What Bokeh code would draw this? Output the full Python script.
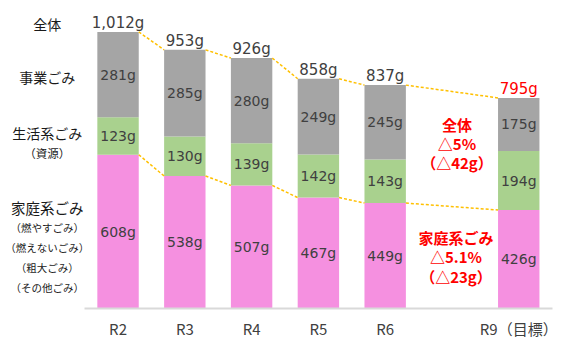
from bokeh.plotting import figure
from bokeh.models import FactorRange, Range1d, ColumnDataSource, Label
from bokeh.transform import dodge
from bokeh.core.properties import value
from bokeh.embed import file_html
from bokeh.resources import INLINE

# Per-capita daily waste (g/person/day) by fiscal year, with the R9 target
periods = ["R2", "R3", "R4", "R5", "R6", "R9（目標）"]
household = [608, 538, 507, 467, 449, 426]   # 家庭系ごみ
resource = [123, 130, 139, 142, 143, 194]    # 生活系ごみ（資源）
business = [281, 285, 280, 249, 245, 175]    # 事業ごみ

total = [h + r + b for h, r, b in zip(household, resource, business)]

Y_MIN, Y_MAX = 102, 1099
BAR_W = 0.62
PINK, GREEN, GRAY = "#f590e0", "#a9d18e", "#a5a5a5"
DASH = "#ffc000"
TXT = "#404040"
RED = "#ff0000"
NUM_FONT = "DejaVu Sans"
JP_FONT = "Noto Sans CJK JP"

# A leading blank slot holds the category names, a second one the gap before R9
names_col = "  "
gap = " "
factors = [names_col] + periods[:-1] + [gap] + periods[-1:]


def fx(factor):
    """Synthetic (numeric) x coordinate of a factor's centre on the range."""
    return factors.index(factor) + 0.5


src = ColumnDataSource(dict(
    period=periods,
    household=household,
    resource=resource,
    business=business,
    total=total,
    hh_mid=[(Y_MIN + h) / 2 for h in household],
    res_mid=[h + r / 2 for h, r in zip(household, resource)],
    bus_mid=[t - b / 2 for t, b in zip(total, business)],
    hh_lbl=[f"{v}g" for v in household],
    res_lbl=[f"{v}g" for v in resource],
    bus_lbl=[f"{v}g" for v in business],
    tot_lbl=[f"{v:,}g" for v in total],
    tot_color=[TXT] * (len(periods) - 1) + [RED],
))

p = figure(width=569, height=341,
           x_range=FactorRange(factors=factors, range_padding=0.26,
                               range_padding_units="absolute"),
           y_range=Range1d(Y_MIN, Y_MAX),
           output_backend="svg", toolbar_location=None,
           y_axis_location=None,
           min_border_left=0, min_border_right=0,
           min_border_top=5, min_border_bottom=28,
           outline_line_color=None,
           background_fill_color="white", border_fill_color="white")

p.xgrid.grid_line_color = None
p.ygrid.grid_line_color = None

ax = p.xaxis[0]
ax.bounds = (factors.index(periods[0]), len(factors))
ax.axis_line_color = "#d9d9d9"
ax.axis_line_width = 2
ax.major_tick_line_color = None
ax.minor_tick_line_color = None
ax.major_label_standoff = 3
ax.major_label_text_font = JP_FONT
ax.major_label_text_font_size = "15px"
ax.major_label_text_color = TXT

# Stacked bars
p.vbar_stack(["household", "resource", "business"], x="period", width=BAR_W,
             color=[PINK, GREEN, GRAY], line_color=None, source=src)


# Dashed connectors between consecutive bars (total and household tops)
def connectors(vals):
    s = ColumnDataSource(dict(x0=periods[:-1], x1=periods[1:],
                              y0=vals[:-1], y1=vals[1:]))
    p.segment(x0=dodge("x0", BAR_W / 2, range=p.x_range), y0="y0",
              x1=dodge("x1", -BAR_W / 2, range=p.x_range), y1="y1",
              source=s, line_color=DASH, line_width=1.5, line_dash="3 2")


connectors(total)
connectors(household)

# Segment values
for ycol, tcol in (("hh_mid", "hh_lbl"), ("res_mid", "res_lbl"), ("bus_mid", "bus_lbl")):
    p.text(x="period", y=ycol, text=tcol, source=src,
           text_align="center", text_baseline="middle",
           text_font=value(NUM_FONT), text_font_size="14px", text_color=TXT)

# Totals above bars
p.text(x="period", y="total", text="tot_lbl", source=src, y_offset=-9,
       text_align="center", text_baseline="alphabetic",
       text_font=value(NUM_FONT), text_font_size="15px", text_color="tot_color")


# Reduction from R6 to the R9 target
def pct_text(a, b):
    return f"△{round((a - b) / a * 100, 1):g}%"


tot_diff = total[-2] - total[-1]
hh_diff = household[-2] - household[-1]


def red_block(lines, y, dys, dx):
    for t, dy in zip(lines, dys):
        p.add_layout(Label(x=fx(gap), y=y, x_offset=dx, y_offset=-dy, text=t,
                           text_align="center", text_baseline="middle",
                           text_font=JP_FONT, text_font_size="15px",
                           text_font_style="bold", text_color=RED))


red_block(["全体", pct_text(total[-2], total[-1]), f"（△{tot_diff}g）"],
          total[-1] - business[-1] / 2, [0, 19, 38], 5)
red_block(["家庭系ごみ", pct_text(household[-2], household[-1]), f"（△{hh_diff}g）"],
          (Y_MIN + household[-1]) / 2, [-22, -3, 17], 4)


# Category names in the leading column
def left_label(text, y, dy, size):
    p.text(x=[names_col], y=[y], x_offset=-4, y_offset=dy, text=[text],
           text_align="center", text_baseline="middle",
           text_font=value(JP_FONT), text_font_size=size, text_color="#1a1a1a")


left_label("全体", total[0], -8, "14px")
left_label("事業ごみ", total[0] - business[0] / 2, 2, "14px")
left_label("生活系ごみ", household[0] + resource[0] / 2, -3, "14px")
left_label("（資源）", household[0] + resource[0] / 2, 17, "11.5px")
hh0 = (Y_MIN + household[0]) / 2
left_label("家庭系ごみ", hh0, -24, "14.5px")
for i, t in enumerate(["（燃やすごみ）", "（燃えないごみ）", "（粗大ごみ）", "（その他ごみ）"]):
    left_label(t, hh0, -4 + 20 * i, "10.5px")

open("out.html", "w").write(file_html(p, INLINE))
